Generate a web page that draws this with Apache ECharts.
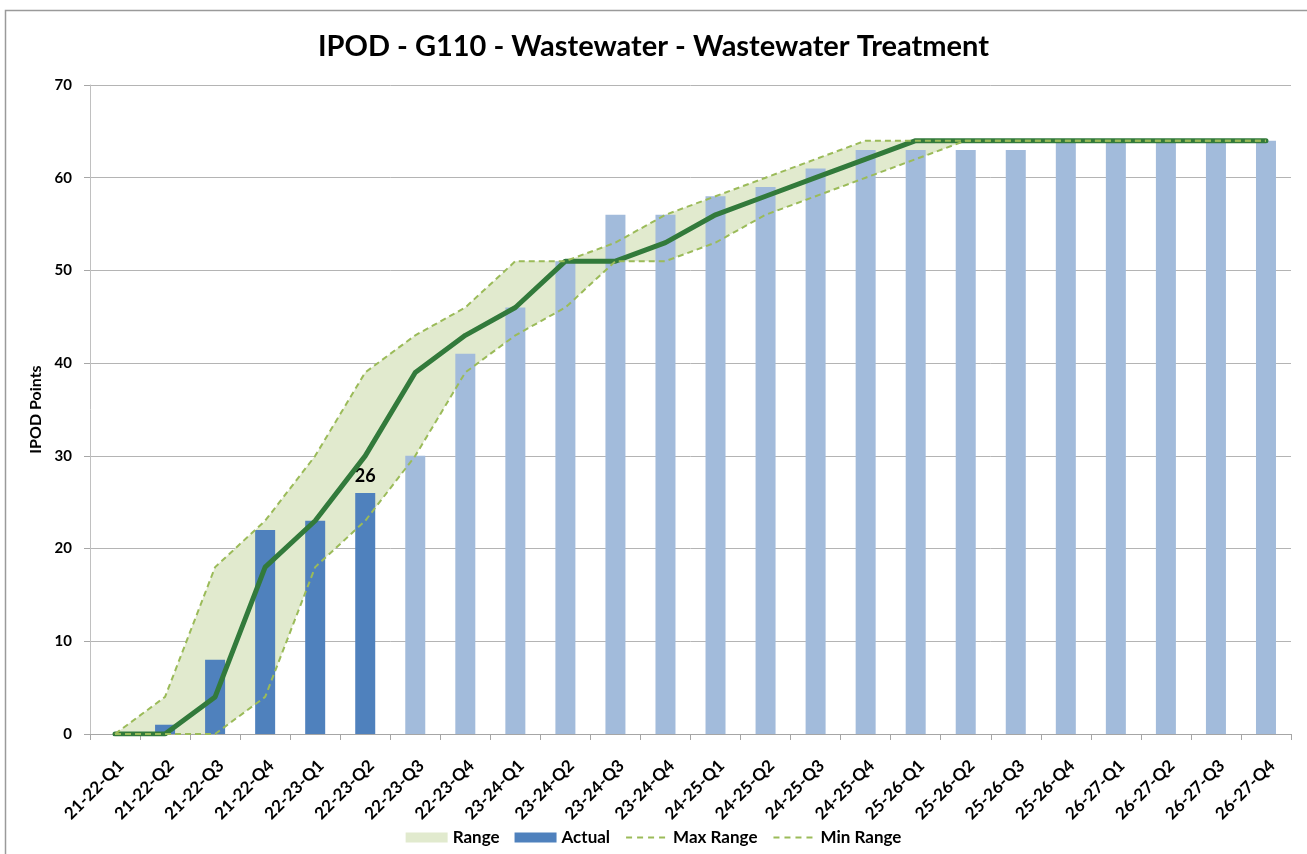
<!DOCTYPE html>
<html>
<head>
<meta charset="utf-8">
<title>IPOD - G110 - Wastewater - Wastewater Treatment</title>
<script src="https://cdn.jsdelivr.net/npm/echarts@6/dist/echarts.min.js"></script>
<style>
  html, body { margin: 0; padding: 0; background: #ffffff; }
  #chart { width: 1307px; height: 854px; }
</style>
</head>
<body>
<div id="chart"></div>
<script>
// Quarters on the x axis
const quarters = [
  '21-22-Q1', '21-22-Q2', '21-22-Q3', '21-22-Q4',
  '22-23-Q1', '22-23-Q2', '22-23-Q3', '22-23-Q4',
  '23-24-Q1', '23-24-Q2', '23-24-Q3', '23-24-Q4',
  '24-25-Q1', '24-25-Q2', '24-25-Q3', '24-25-Q4',
  '25-26-Q1', '25-26-Q2', '25-26-Q3', '25-26-Q4',
  '26-27-Q1', '26-27-Q2', '26-27-Q3', '26-27-Q4'
];

// IPOD points per quarter (first entries are reported, the rest forecast)
const actualPoints = [0, 1, 8, 22, 23, 26, 30, 41, 46, 51, 56, 56, 58, 59, 61, 63, 63, 63, 63, 64, 64, 64, 64, 64];
const reportedQuarters = 6;

// Planned trajectory
const planPoints = [0, 0, 4, 18, 23, 30, 39, 43, 46, 51, 51, 53, 56, 58, 60, 62, 64, 64, 64, 64, 64, 64, 64, 64];

// Upper and lower bounds of the planned range
const maxRange = [0, 4, 18, 23, 30, 39, 43, 46, 51, 51, 53, 56, 58, 60, 62, 64, 64, 64, 64, 64, 64, 64, 64, 64];
const minRange = [0, 0, 0, 4, 18, 23, 30, 39, 43, 46, 51, 51, 53, 56, 58, 60, 62, 64, 64, 64, 64, 64, 64, 64];

// Y axis ticks
const yMin = 0, yMax = 70, yStep = 10;

const FONT = 'Lato, "Open Sans", "Liberation Sans", sans-serif';
const C_ACTUAL = '#4F81BD';
const C_FORECAST = '#A2BBDB';
const C_RANGE = '#E1EACE';
const C_BOUND = '#9BBB59';
const C_PLAN = '#327A3B';

const bandHeight = maxRange.map((v, i) => v - minRange[i]);

const barData = actualPoints.map((v, i) => ({
  value: v,
  itemStyle: { color: i < reportedQuarters ? C_ACTUAL : C_FORECAST },
  label: i === reportedQuarters - 1 ? {
    show: true, position: 'top', distance: 8,
    color: '#000', fontFamily: FONT, fontWeight: 'bold', fontSize: 18
  } : { show: false }
}));

// legend swatch for the dashed bound lines: line only, no marker
const dashLegend = {
  itemStyle: { color: 'rgba(0,0,0,0)', borderColor: 'rgba(0,0,0,0)', borderWidth: 0, opacity: 0 },
  lineStyle: { color: C_BOUND, width: 2, type: [6, 5] }
};

const chart = echarts.init(document.getElementById('chart'), null, { renderer: 'canvas' });

chart.setOption({
  animation: false,
  backgroundColor: '#ffffff',
  textStyle: { fontFamily: FONT },
  title: {
    text: 'IPOD - G110 - Wastewater - Wastewater Treatment',
    left: 'center',
    top: 27,
    textStyle: { fontFamily: FONT, fontWeight: 'bold', fontSize: 29, color: '#000' }
  },
  graphic: [{
    type: 'rect',
    shape: { x: 5.5, y: 10.5, width: 1320, height: 870 },
    style: { fill: 'none', stroke: '#9a9a9a', lineWidth: 1.5 },
    silent: true
  }],
  legend: {
    bottom: 3,
    left: 'center',
    itemWidth: 42,
    itemHeight: 10,
    itemGap: 15,
    textStyle: { fontFamily: FONT, fontWeight: 'bold', fontSize: 17, color: '#000' },
    data: [
      { name: 'Range', icon: 'rect', itemStyle: { color: C_RANGE } },
      { name: 'Actual', icon: 'rect', itemStyle: { color: C_ACTUAL } },
      Object.assign({ name: 'Max Range' }, dashLegend),
      Object.assign({ name: 'Min Range' }, dashLegend)
    ]
  },
  grid: { left: 90, right: 16, top: 85, bottom: 120, containLabel: false },
  xAxis: {
    type: 'category',
    data: quarters,
    boundaryGap: true,
    axisLine: { lineStyle: { color: '#a6a6a6', width: 1 } },
    axisTick: { show: true, alignWithLabel: false, length: 6, lineStyle: { color: '#a6a6a6' } },
    axisLabel: {
      rotate: 45, interval: 0, margin: 23,
      align: 'right', verticalAlign: 'top',
      fontFamily: FONT, fontWeight: 'bold', fontSize: 17, color: '#000'
    },
    splitLine: { show: false }
  },
  yAxis: {
    type: 'value',
    min: yMin, max: yMax, interval: yStep,
    name: 'IPOD Points',
    nameLocation: 'middle',
    nameGap: 30,
    nameTextStyle: { fontFamily: FONT, fontWeight: 'bold', fontSize: 16, color: '#000' },
    axisLine: { show: true, lineStyle: { color: '#c0c0c0', width: 1 } },
    axisTick: { show: true, length: 6, lineStyle: { color: '#a6a6a6' } },
    axisLabel: { margin: 18, fontFamily: FONT, fontWeight: 'bold', fontSize: 15, color: '#000' },
    splitLine: { show: true, lineStyle: { color: '#b4b4b4', width: 1 } }
  },
  series: [
    {
      name: 'rangeBase',
      type: 'line',
      stack: 'range',
      data: minRange,
      symbol: 'none',
      lineStyle: { opacity: 0 },
      areaStyle: { opacity: 0 },
      silent: true,
      z: 1
    },
    {
      name: 'Range',
      type: 'line',
      stack: 'range',
      data: bandHeight,
      symbol: 'none',
      itemStyle: { color: C_RANGE },
      lineStyle: { opacity: 0 },
      areaStyle: { color: C_RANGE, opacity: 1 },
      silent: true,
      z: 1
    },
    {
      name: 'Actual',
      type: 'bar',
      data: barData,
      barWidth: 20,
      itemStyle: { color: C_ACTUAL },
      z: 2
    },
    {
      name: 'Plan',
      type: 'line',
      data: planPoints,
      symbol: 'none',
      lineStyle: { color: C_PLAN, width: 5, cap: 'round', join: 'round' },
      itemStyle: { color: C_PLAN },
      z: 3
    },
    {
      name: 'Max Range',
      type: 'line',
      data: maxRange,
      symbol: 'none',
      lineStyle: { color: C_BOUND, width: 2, type: [6, 4] },
      itemStyle: { color: C_BOUND },
      z: 4
    },
    {
      name: 'Min Range',
      type: 'line',
      data: minRange,
      symbol: 'none',
      lineStyle: { color: C_BOUND, width: 2, type: [6, 4] },
      itemStyle: { color: C_BOUND },
      z: 4
    }
  ]
});
</script>
</body>
</html>
